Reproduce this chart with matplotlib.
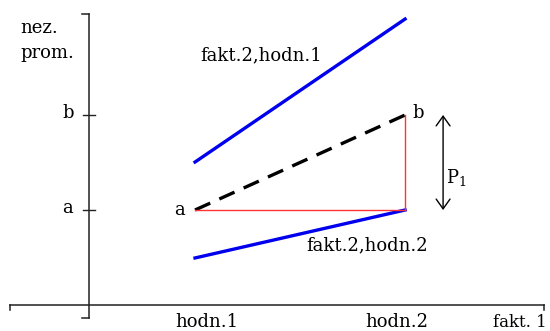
import matplotlib.pyplot as plt
import numpy as np

# factor 1 levels (x) and response levels (y): a = 1, b = 2
levels = [1, 2]
level_labels = ['hodn.1', 'hodn.2']
y_levels = [1, 2]
y_labels = ['a', 'b']

fakt2_hodn1 = [1.505, 3.01]
fakt2_hodn2 = [0.495, 1.0]
mean_line = [1.0, 2.0]

plt.rcParams['font.family'] = ['DejaVu Serif']
plt.rcParams['mathtext.fontset'] = 'dejavuserif'

fig = plt.figure(figsize=(5.5, 3.31), dpi=100)
ax = fig.add_axes([0, 0, 1, 1])
ax.set_xlim(0.0714, 2.690)
ax.set_ylim(-0.2737, 3.2105)
ax.axis('off')

fs = 13
col = '#222222'
# axes
x_axis = [0.119, 2.662]
y_axis_x = 0.495
y_axis = [-0.137, 3.063]
ax.plot(x_axis, [0, 0], color=col, lw=1.1)
ax.plot([y_axis_x, y_axis_x], y_axis, color=col, lw=1.1)
tk = 0.033
ax.plot([y_axis_x - tk, y_axis_x], [y_axis[1]] * 2, color=col, lw=1.1)
ax.plot([y_axis_x - tk, y_axis_x], [y_axis[0]] * 2, color=col, lw=1.1)
for xe in x_axis:
    ax.plot([xe, xe], [0, -0.055], color=col, lw=1.1)
for yv, lab in zip(y_levels, y_labels):
    ax.plot([y_axis_x - 0.028, y_axis_x + 0.028], [yv, yv], color=col, lw=1.0)
    ax.text(y_axis_x - 0.1, yv + 0.02, lab, fontsize=fs, ha='center', va='center')
for xv, lab, dx in zip(levels, level_labels, [0.057, -0.038]):
    ax.text(xv + dx, -0.179, lab, fontsize=fs, ha='center', va='center')

ax.text(2.675, -0.18, 'fakt. 1', fontsize=12, ha='right', va='center')
ax.text(0.167, 2.916, 'nez.', fontsize=fs, ha='left', va='center')
ax.text(0.167, 2.653, 'prom.', fontsize=fs, ha='left', va='center')

# lines
ax.plot(levels, fakt2_hodn1, color='#0000ee', lw=2.4)
ax.plot(levels, fakt2_hodn2, color='#0000ee', lw=2.4)
ax.plot(levels, mean_line, color='black', lw=2.4, dashes=(5, 3))
ax.plot(levels, [mean_line[0]] * 2, color='#ff3333', lw=1.0)
ax.plot([levels[1]] * 2, mean_line, color='#ff3333', lw=1.0)

ax.text(0.924, 1.0, 'a', fontsize=fs, ha='center', va='center')
ax.text(2.062, 2.02, 'b', fontsize=fs, ha='center', va='center')
ax.text(1.314, 2.632, 'fakt.2,hodn.1', fontsize=fs, ha='center', va='center')
ax.text(1.819, 0.632, 'fakt.2,hodn.2', fontsize=fs, ha='center', va='center')

ax.annotate('', xy=(2.181, 2.0), xytext=(2.181, 1.0),
            arrowprops=dict(arrowstyle='<->,head_length=0.7,head_width=0.5',
                            color='black', lw=1.0, shrinkA=0, shrinkB=0))
ax.text(2.195, 1.337, r'P$_1$', fontsize=fs, ha='left', va='center')

fig.savefig('out.png', dpi=100)
